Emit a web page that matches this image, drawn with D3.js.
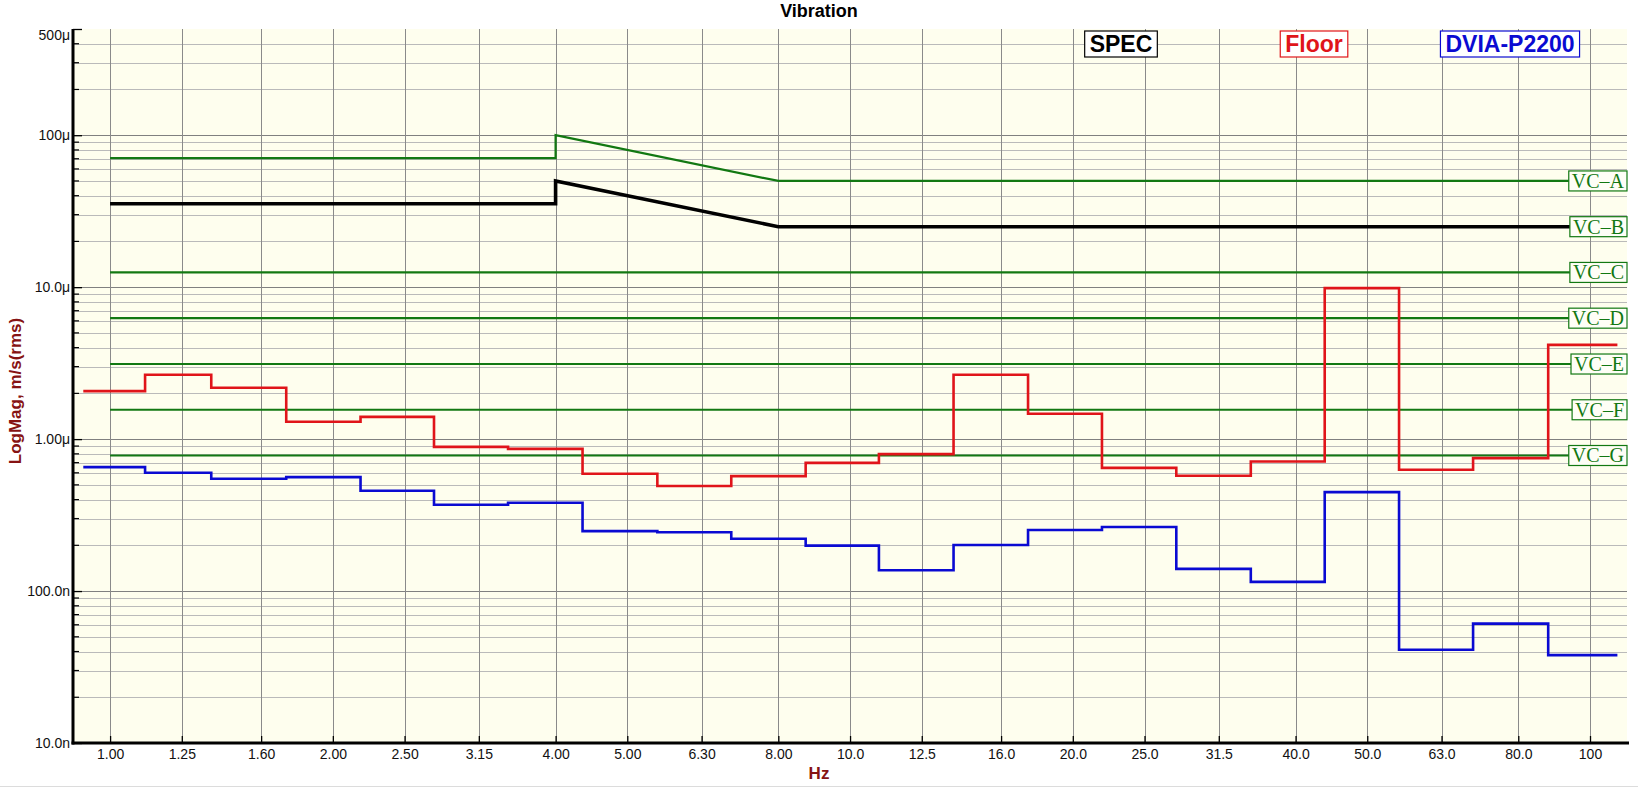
<!DOCTYPE html>
<html><head><meta charset="utf-8">
<script src="https://cdn.jsdelivr.net/npm/d3@7"></script>
<style>
body{margin:0;background:#fff;}
svg{display:block;font-family:"Liberation Sans",Arial,sans-serif;}
</style>
</head><body>
<svg id="chart" width="1638" height="788"></svg>
<script>
// ---------- data ----------
const bandLabels = ["1.00","1.25","1.60","2.00","2.50","3.15","4.00","5.00","6.30","8.00","10.0","12.5","16.0","20.0","25.0","31.5","40.0","50.0","63.0","80.0","100"];
const bandCenters = [1,1.25,1.6,2,2.5,3.15,4,5,6.3,8,10,12.5,16,20,25,31.5,40,50,63,80,100];
// band edges (Hz) where the 1/3-octave steps change
const bandEdges = [0.92,1.115,1.37,1.73,2.18,2.74,3.45,4.35,5.49,6.91,8.71,10.94,13.8,17.4,21.9,27.6,34.8,43.8,55.2,69.5,87.8,108.9];
// velocity, m/s(rms)
const floorValues = [2.07e-6,2.65e-6,2.18e-6,1.30e-6,1.40e-6,0.889e-6,0.863e-6,0.591e-6,0.491e-6,0.571e-6,0.698e-6,0.796e-6,2.65e-6,1.47e-6,0.647e-6,0.574e-6,0.713e-6,9.85e-6,0.628e-6,0.750e-6,4.17e-6];
const dviaValues = [0.654e-6,0.600e-6,0.548e-6,0.562e-6,0.457e-6,0.370e-6,0.381e-6,0.248e-6,0.244e-6,0.221e-6,0.199e-6,0.137e-6,0.201e-6,0.252e-6,0.264e-6,0.140e-6,0.115e-6,0.448e-6,0.0411e-6,0.0610e-6,0.0379e-6];
const specFreqs = [1,4,4,8,112.2];
const specValues = [35.4e-6,35.4e-6,50e-6,25e-6,25e-6];
const vcaFreqs = [1,4,4,8,112.2];
const vcaValues = [70.7e-6,70.7e-6,100e-6,50e-6,50e-6];
const vcNames = ["VC\u2013A","VC\u2013B","VC\u2013C","VC\u2013D","VC\u2013E","VC\u2013F","VC\u2013G"];
const vcLevels = [50e-6,25e-6,12.5e-6,6.25e-6,3.12e-6,1.56e-6,0.78e-6];
const yTickValues = [1e-8,1e-7,1e-6,1e-5,1e-4,5e-4];
const yTickLabels = ["10.0n","100.0n","1.00\u03bc","10.0\u03bc","100\u03bc","500\u03bc"];
const legendNames = ["SPEC","Floor","DVIA-P2200"];
const legendColors = ["#000000","#e0141a","#0a0ad2"];
const freqDomain = [0.891,112.2];
const magDomain = [1e-8,5e-4];

// ---------- layout ----------
const W = 1638, H = 788;
const m = {left:73, top:29, right:11, bottom:45};
const pw = W - m.left - m.right, ph = H - m.top - m.bottom;
const GREEN = "#127812", RED = legendColors[1], BLUE = legendColors[2], MAROON = "#861313";

const svg = d3.select("#chart");
const x = d3.scaleLog().domain(freqDomain).range([m.left, m.left + pw]);
const y = d3.scaleLog().domain(magDomain).range([m.top + ph, m.top]);

svg.append("rect").attr("x",0).attr("y",0).attr("width",W).attr("height",H).attr("fill","#fff");
svg.append("rect").attr("x",m.left).attr("y",m.top).attr("width",pw).attr("height",ph).attr("fill","#fefeee");
svg.append("line").attr("x1",0).attr("x2",W).attr("y1",786.5).attr("y2",786.5).attr("stroke","#dcdcdc");

// minor y values
const minorY = [];
for (let e = -8; e <= -4; e++) for (let k = 2; k <= 9; k++) { const v = k * Math.pow(10, e); if (v < 5e-4) minorY.push(v); }

const grid = svg.append("g");
grid.selectAll(".hm").data(minorY).join("line")
  .attr("x1",m.left).attr("x2",m.left+pw).attr("y1",d=>Math.round(y(d))+0.5).attr("y2",d=>Math.round(y(d))+0.5)
  .attr("stroke","#bababa").attr("stroke-width",1);
grid.selectAll(".hM").data(yTickValues.slice(0,5)).join("line")
  .attr("x1",m.left).attr("x2",m.left+pw).attr("y1",d=>Math.round(y(d))+0.5).attr("y2",d=>Math.round(y(d))+0.5)
  .attr("stroke","#808080").attr("stroke-width",1);
grid.selectAll(".v").data(bandCenters).join("line")
  .attr("y1",m.top).attr("y2",m.top+ph).attr("x1",d=>Math.round(x(d))+0.5).attr("x2",d=>Math.round(x(d))+0.5)
  .attr("stroke","#8a8a8a").attr("stroke-width",1);

// ---------- lines ----------
const line = d3.line().x(d=>x(d[0])).y(d=>y(d[1]));
function stepPoints(vals){
  const pts = [];
  vals.forEach((v,i)=>{ pts.push([bandEdges[i], v]); pts.push([bandEdges[i+1], v]); });
  return pts;
}
const gl = svg.append("g");
// VC horizontal criteria lines (VC-A and VC-B are drawn by their own curves)
vcLevels.forEach((lv,i)=>{
  if (i < 2) return;
  gl.append("path").attr("d", line([[1,lv],[freqDomain[1],lv]]))
    .attr("fill","none").attr("stroke",GREEN).attr("stroke-width",2.2);
});
gl.append("path").attr("d", line(vcaFreqs.map((f,i)=>[f,vcaValues[i]])))
  .attr("fill","none").attr("stroke",GREEN).attr("stroke-width",2.2);
gl.append("path").attr("d", line(specFreqs.map((f,i)=>[f,specValues[i]])))
  .attr("fill","none").attr("stroke","#000").attr("stroke-width",3.6);
gl.append("path").attr("d", line(stepPoints(floorValues)))
  .attr("fill","none").attr("stroke",RED).attr("stroke-width",2.6);
gl.append("path").attr("d", line(stepPoints(dviaValues)))
  .attr("fill","none").attr("stroke",BLUE).attr("stroke-width",2.6);

// VC labels
const vcg = svg.append("g");
vcLevels.forEach((lv,i)=>{
  const g = vcg.append("g");
  const t = g.append("text").text(vcNames[i]).attr("font-family","'Liberation Serif','Times New Roman',serif")
    .attr("font-size",20).attr("fill",GREEN).attr("text-anchor","end")
    .attr("x", m.left+pw-3).attr("y", y(lv)).attr("dy","0.35em");
  const bb = t.node().getBBox();
  g.insert("rect","text").attr("x", bb.x-3).attr("y", y(lv)-10).attr("width", (m.left+pw) - (bb.x-3)).attr("height",20)
    .attr("fill","#fefef6").attr("stroke",GREEN).attr("stroke-width",1.2);
});

// ---------- axes ----------
const yAxis = d3.axisLeft(y).tickValues(yTickValues).tickFormat((d,i)=>yTickLabels[i]).tickSizeInner(-9).tickSizeOuter(0).tickPadding(3);
const ya = svg.append("g").attr("transform",`translate(${m.left},0)`).call(yAxis);
ya.select(".domain").remove();
ya.selectAll("text").attr("font-size",14).attr("fill","#111").attr("font-family","'Liberation Sans',Arial,sans-serif")
  .attr("dy", (d)=> d === magDomain[1] ? "0.75em" : "0.32em");
ya.selectAll(".tick line").attr("stroke","#000").attr("stroke-width",1.3);
svg.append("g").selectAll("line").data(minorY).join("line")
  .attr("x1",m.left).attr("x2",m.left+6).attr("y1",d=>y(d)).attr("y2",d=>y(d)).attr("stroke","#000").attr("stroke-width",1.2);

const xAxis = d3.axisBottom(x).tickValues(bandCenters).tickFormat((d,i)=>bandLabels[i]).tickSizeInner(-7).tickSizeOuter(0).tickPadding(6);
const xa = svg.append("g").attr("transform",`translate(0,${m.top+ph})`).call(xAxis);
xa.select(".domain").remove();
xa.selectAll("text").attr("font-size",14).attr("fill","#111").attr("font-family","'Liberation Sans',Arial,sans-serif");
xa.selectAll(".tick line").attr("stroke","#000").attr("stroke-width",1.3);

svg.append("line").attr("x1",m.left).attr("x2",m.left).attr("y1",m.top).attr("y2",m.top+ph+1.5).attr("stroke","#000").attr("stroke-width",3);
svg.append("line").attr("x1",m.left-1.5).attr("x2",m.left+pw+2).attr("y1",m.top+ph).attr("y2",m.top+ph).attr("stroke","#000").attr("stroke-width",3);

// titles
svg.append("text").text("Vibration").attr("x",W/2).attr("y",17).attr("text-anchor","middle")
  .attr("font-size",18).attr("font-weight","bold").attr("fill","#000");
svg.append("text").text("Hz").attr("x",W/2).attr("y",779).attr("text-anchor","middle")
  .attr("font-size",17).attr("font-weight","bold").attr("fill",MAROON);
svg.append("text").text("LogMag, m/s(rms)").attr("transform","translate(21,391) rotate(-90)").attr("text-anchor","middle")
  .attr("font-size",17).attr("font-weight","bold").attr("fill",MAROON);

// legend
const legendCenters = [1121,1314,1510];
legendNames.forEach((n,i)=>{
  const g = svg.append("g");
  const t = g.append("text").text(n).attr("x",legendCenters[i]).attr("y",52).attr("text-anchor","middle")
    .attr("font-size",23).attr("font-weight","bold").attr("fill",legendColors[i]);
  const bb = t.node().getBBox();
  g.insert("rect","text").attr("x",bb.x-5).attr("y",31).attr("width",bb.width+10).attr("height",26)
    .attr("fill","#fff").attr("stroke",legendColors[i]).attr("stroke-width",1.2);
});
</script>
</body></html>
